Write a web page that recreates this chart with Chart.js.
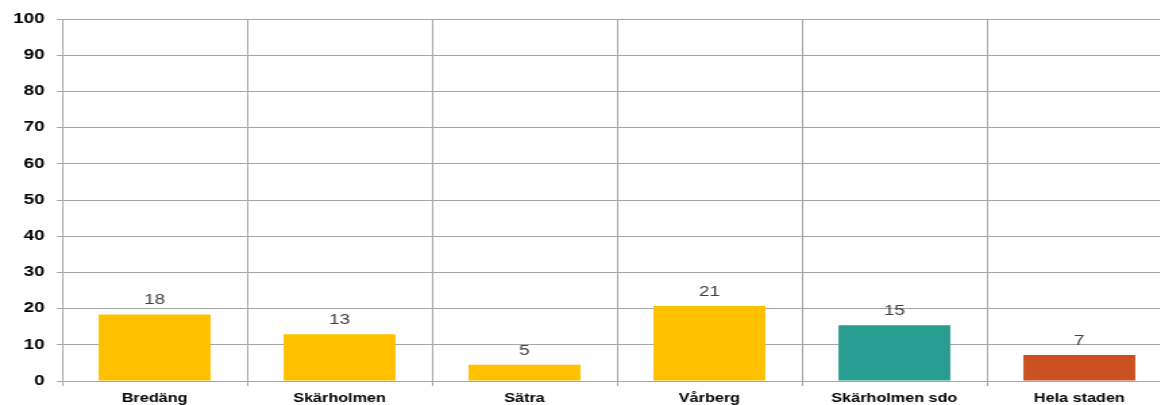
<!DOCTYPE html>
<html>
<head>
<meta charset="utf-8">
<script src="https://cdn.jsdelivr.net/npm/chart.js@4/dist/chart.umd.min.js"></script>
<style>
  html, body { margin: 0; padding: 0; background: #ffffff; overflow: hidden; width: 1160px; height: 405px; }
  #wrap { position: absolute; left: 0; top: 0; width: 870px; height: 405px; transform: scaleX(1.35); transform-origin: 0 0; }
</style>
</head>
<body>
<div id="wrap"><canvas id="c" width="870" height="405"></canvas></div>
<script>
const categories = ['Bredäng', 'Skärholmen', 'Sätra', 'Vårberg', 'Skärholmen sdo', 'Hela staden'];
const values = [18.4, 12.9, 4.5, 20.7, 15.4, 7.2];
const barColors = ['#FFC000', '#FFC000', '#FFC000', '#FFC000', '#2A9D93', '#CC5120'];
const yTicks = [0, 10, 20, 30, 40, 50, 60, 70, 80, 90, 100];

const gridColor = '#a6a6a6';

const dataLabels = {
  id: 'dataLabels',
  afterDatasetsDraw(chart) {
    const ctx = chart.ctx;
    const meta = chart.getDatasetMeta(0);
    ctx.save();
    ctx.font = '14px "Liberation Sans", Arial, sans-serif';
    ctx.fillStyle = '#404040';
    ctx.textAlign = 'center';
    ctx.textBaseline = 'middle';
    meta.data.forEach((bar, i) => {
      ctx.fillText(String(Math.round(values[i])), bar.x, bar.y - 14);
    });
    ctx.restore();
  }
};

new Chart(document.getElementById('c'), {
  type: 'bar',
  data: {
    labels: categories,
    datasets: [{
      data: values,
      backgroundColor: barColors,
      borderWidth: 0,
      categoryPercentage: 1,
      barPercentage: 0.605
    }]
  },
  options: {
    responsive: false,
    animation: false,
    devicePixelRatio: 1,
    layout: { padding: { top: 19, right: 2, left: 0, bottom: 0 } },
    plugins: { legend: { display: false }, tooltip: { enabled: false } },
    scales: {
      x: {
        offset: true,
        grid: { display: true, offset: true, color: gridColor, lineWidth: 1, tickLength: 5, drawTicks: true },
        border: { display: true, color: gridColor, width: 1 },
        ticks: {
          color: '#000000',
          font: { family: '"Liberation Sans", Arial, sans-serif', size: 12, weight: 'bold' },
          padding: 5,
          maxRotation: 0,
          autoSkip: false
        },
        afterFit(scale) { scale.height = 24; }
      },
      y: {
        min: 0,
        max: 100,
        afterBuildTicks(scale) { scale.ticks = yTicks.map(v => ({ value: v })); },
        grid: { color: gridColor, lineWidth: 1, tickLength: 4, drawTicks: true },
        border: { display: true, color: gridColor, width: 1 },
        ticks: {
          color: '#000000',
          font: { family: '"Liberation Sans", Arial, sans-serif', size: 14, weight: 'bold' },
          padding: 9
        },
        afterFit(scale) { scale.width = 46; }
      }
    }
  },
  plugins: [dataLabels]
});
</script>
</body>
</html>
